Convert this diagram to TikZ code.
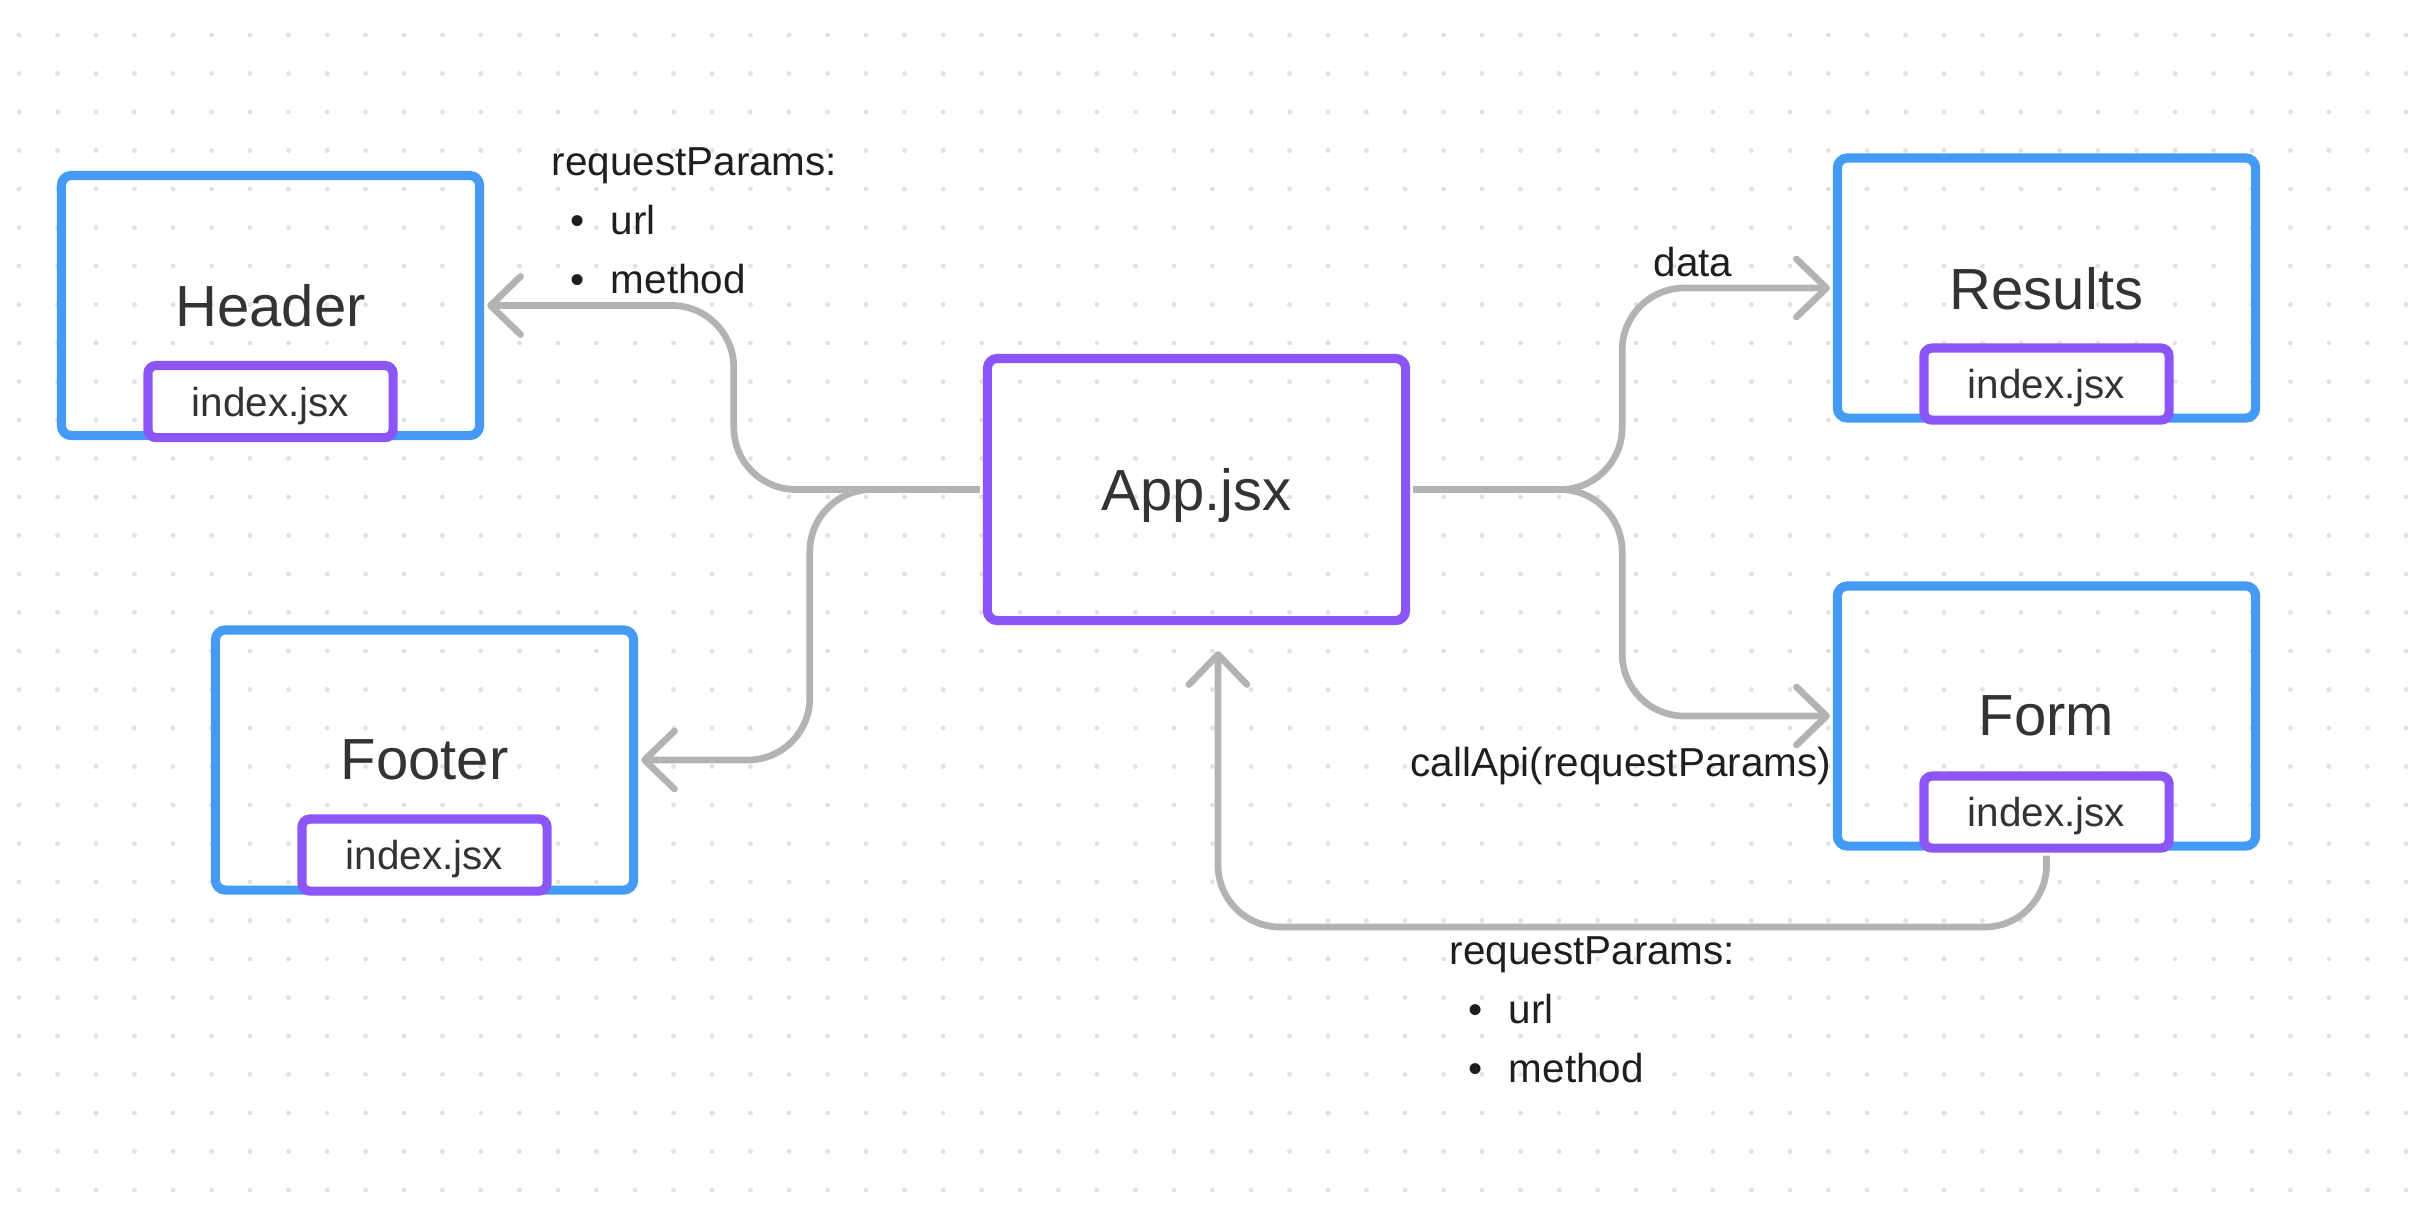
\documentclass[tikz,border=0pt]{standalone}
\usepackage{fontspec}
\setmainfont{Liberation Sans}
\usepackage{xcolor}
\usetikzlibrary{positioning,arrows.meta}
\definecolor{CompBlue}{HTML}{449AF5}
\definecolor{AppPurple}{HTML}{8C55F6}
\definecolor{WireGray}{HTML}{B3B3B3}
\definecolor{DotGray}{HTML}{E2E2E2}
\definecolor{TitleGray}{HTML}{333333}
\definecolor{NoteBlack}{HTML}{1E1E1E}
\newcommand{\bulletline}[1]{\hspace*{0.19cm}\textbullet\hspace{0.26cm}#1}

\begin{document}
\begin{tikzpicture}[
  x=0.01cm,y=-0.01cm,
  comp/.style={rectangle,draw=CompBlue,line width=2.6pt,rounded corners=0.1cm,minimum width=4.18cm,minimum height=2.6cm,text depth=0pt,font=\fontsize{16.5}{20}\selectfont,text=TitleGray},
  appbox/.style={comp,draw=AppPurple,minimum height=2.62cm},
  filebox/.style={rectangle,draw=AppPurple,fill=white,line width=2.6pt,rounded corners=0.08cm,minimum width=2.45cm,minimum height=0.72cm,text depth=0pt,font=\fontsize{11.5}{14}\selectfont,text=TitleGray},
  note/.style={inner sep=0pt,align=left,font=\fontsize{11.5}{16.8}\selectfont,text=NoteBlack},
  arr/.style={-{Straight Barb[length=0.3cm,width=0.58cm,round]},line width=1.9pt,draw=WireGray,rounded corners=0.62cm,shorten <=0.03cm,shorten >=0.03cm},
]

% Fondo con puntos
\fill[white] (0,0) rectangle (2432,1214);
\useasboundingbox (0,0) rectangle (2432,1214);
\foreach \i in {0,...,62}
  \foreach \j in {0,...,30}
    \fill[DotGray] (19+38.5*\i,35+38.5*\j) circle[radius=0.024cm];

% Componentes
\node[appbox] (app) at (1196.5,489.5) {App.jsx};
\node[comp] (header) at (270.5,305.5) {Header};
\node[comp] (footer) at (424.5,760) {Footer};
\node[comp] (results) at (2046.5,288) {Results};
\node[comp] (form) at (2046.5,716) {Form};

% Archivos index.jsx
\node[filebox,above=-0.02cm of header.south] (hidx) {index.jsx};
\node[filebox,above=-0.01cm of footer.south] (fidx) {index.jsx};
\node[filebox,above=-0.02cm of results.south] (ridx) {index.jsx};
\node[filebox,above=-0.02cm of form.south] (formidx) {index.jsx};

% Flechas
\draw[arr] (app.west) -- ++(-249,0) |- (header.east);
\draw[arr] (app.west) -- ++(-173,0) |- (footer.east);
\draw[arr] (app.east) -- ++(212,0) |- (results.west);
\draw[arr] (app.east) -- ++(212,0) |- (form.west);
\coordinate (ret) at (1218,927);
\draw[arr,shorten >=0.26cm] (formidx.south) |- (ret) -- (ret |- app.south);

% Etiquetas
\node[note,anchor=north west] (hdrnote) at (551,147) {requestParams:\\\bulletline{url}\\\bulletline{method}};
\node[note,anchor=base west] (datanote) at (1653,276) {data};
\node[note,anchor=base west] (callnote) at (1410,776) {callApi(requestParams)};
\node[note,anchor=north west] (retnote) at (1449,936) {requestParams:\\\bulletline{url}\\\bulletline{method}};

\end{tikzpicture}
\end{document}
